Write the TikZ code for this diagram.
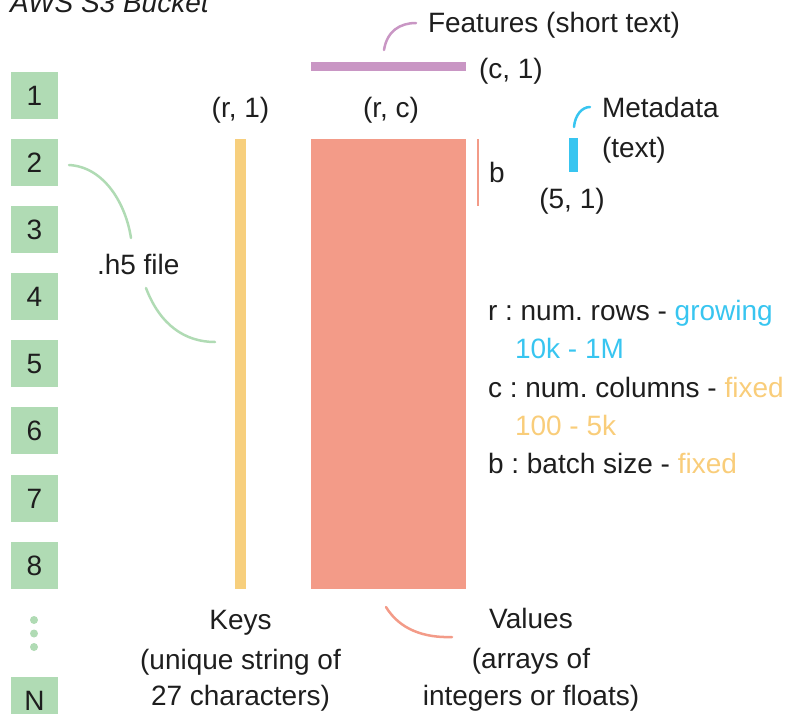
\documentclass[tikz,border=0pt]{standalone}
\usepackage{fontspec}
\setmainfont{Liberation Sans}
\frenchspacing
\begin{document}
\begin{tikzpicture}[x=1pt,y=-1pt,
  every node/.style={inner sep=0pt,outer sep=0pt,font=\fontsize{28}{34}\selectfont\frenchspacing,text=txt},
  box/.style={fill=boxgreen,minimum width=47pt,minimum height=47pt,anchor=north west},
  lbl/.style={anchor=base},
  lblw/.style={anchor=base west},
  conn/.style={line width=2.5pt,line cap=round}]
\definecolor{txt}{RGB}{30,30,30}
\definecolor{boxgreen}{RGB}{176,219,180}
\definecolor{keyyel}{RGB}{247,207,125}
\definecolor{valsal}{RGB}{243,155,136}
\definecolor{featpur}{RGB}{201,150,196}
\definecolor{metablue}{RGB}{56,197,240}
\definecolor{fixyel}{RGB}{249,205,122}
\useasboundingbox (0,0) rectangle (812,713);
\clip (0,0) rectangle (812,713);
% title
\node[lblw,font=\fontsize{28}{34}\selectfont\itshape] (title) at (10,12) {AWS S3 Bucket};
% green boxes
\node[box] (b1) at (11,72) {1};
\node[box] (b2) at (11,139) {2};
\node[box] (b3) at (11,206) {3};
\node[box] (b4) at (11,273) {4};
\node[box] (b5) at (11,340) {5};
\node[box] (b6) at (11,407) {6};
\node[box] (b7) at (11,475) {7};
\node[box] (b8) at (11,542) {8};
\fill[boxgreen] (34,620) circle (4) (34,633.5) circle (4) (34,647) circle (4);
\node[box] (bN) at (11,677) {N};
% keys bar
\fill[keyyel] (235,139) rectangle (246,589);
\node[lbl] (r1) at (240.5,117) {(r, 1)};
% values block
\fill[valsal] (311,139) rectangle (466,589);
\node[lbl] (rc) at (391,117) {(r, c)};
% features bar
\fill[featpur] (311,62) rectangle (466,71);
\node[lblw] (c1) at (479,78) {(c, 1)};
\node[lblw] (feat) at (428,32) {Features (short text)};
% b marker
\draw[valsal,line width=2pt] (478,139) -- (478,206);
\node[lblw] (bl) at (489,182) {b};
% metadata
\fill[metablue] (569,138) rectangle (578,172);
\node[lbl] (m51) at (572,208) {(5, 1)};
\node[lblw] (meta) at (602,117) {Metadata};
\node[lblw] (metat) at (602,157) {(text)};
% h5 label
\node[lblw] (h5) at (97,274) {.h5 file};
% bottom labels
\node[lbl] (keys) at (240.5,629) {Keys};
\node[lbl] (keys2) at (240.5,669) {(unique string of};
\node[lbl] (keys3) at (240.5,705) {27 characters)};
\node[lbl] (vals) at (531,628) {Values};
\node[lbl] (vals2) at (531,668) {(arrays of};
\node[lbl] (vals3) at (531,705) {integers or floats)};
% legend
\node[lblw] (lr) at (488,320) {r : num. rows - \textcolor{metablue}{growing}};
\node[lblw,text=metablue] (lr2) at (515,358) {10k - 1M};
\node[lblw] (lc) at (488,397) {c : num. columns - \textcolor{fixyel}{fixed}};
\node[lblw,text=fixyel] (lc2) at (515,435) {100 - 5k};
\node[lblw] (lb) at (488,473) {b : batch size - \textcolor{fixyel}{fixed}};
% connector end points
\coordinate (g1a) at (69,165);
\coordinate (g1b) at (131,238);
\coordinate (g2a) at (146,288);
\coordinate (g2b) at (215,342);
\coordinate (pa) at (384,50);
\coordinate (pb) at (416,23);
\coordinate (ma) at (574,127);
\coordinate (mb) at (590,107);
\coordinate (sa) at (386,607);
\coordinate (sb) at (452,637);
\draw[conn,boxgreen] (g1a) .. controls (105,167) and (126,205) .. (g1b);
\draw[conn,boxgreen] (g2a) .. controls (160,325) and (185,342) .. (g2b);
\draw[conn,featpur] (pa) .. controls (387,31) and (400,23) .. (pb);
\draw[conn,metablue] (ma) .. controls (575,115) and (582,107) .. (mb);
\draw[conn,valsal] (sa) .. controls (400,630) and (425,638) .. (sb);
\end{tikzpicture}
\end{document}
